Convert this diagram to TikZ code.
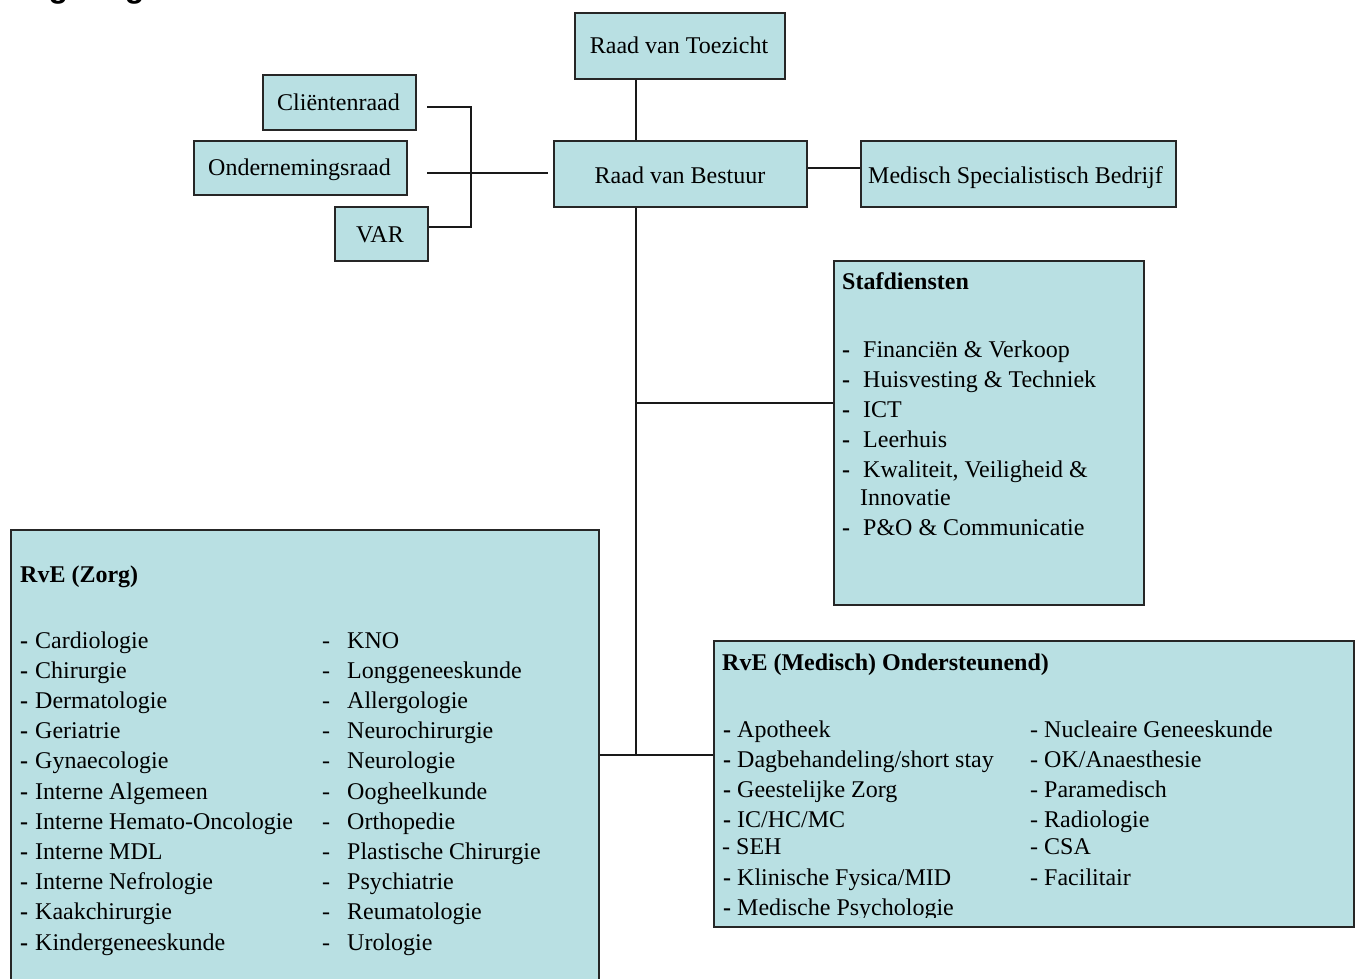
\documentclass[tikz,border=0pt]{standalone}
\usepackage{fontspec}
\setmainfont{Liberation Serif}
\newfontfamily\headfont{Liberation Sans}
\definecolor{boxfill}{RGB}{185,224,227}
\begin{document}
\begin{tikzpicture}[x=1pt,y=-1pt,
  box/.style={draw=black!85, line width=1.5pt, fill=boxfill, rectangle, inner sep=0pt, anchor=north west},
  txt/.style={inner sep=0pt, anchor=base west, font=\fontsize{24}{29}\selectfont},
  ctxt/.style={txt, anchor=base},
  btxt/.style={txt, font=\fontsize{24}{29}\selectfont\bfseries},
  conn/.style={line width=1.5pt, draw=black!90},
]
\useasboundingbox (0,0) rectangle (1360,978);
\clip (0,0) rectangle (1360,978);

% partially visible heading
\node[anchor=base west, inner sep=0pt, font=\headfont\bfseries\fontsize{32}{38}\selectfont] (head) at (11,-3) {Organogram};

% boxes
\node[box, minimum width=210, minimum height=66] (rvt) at (574,12) {};
\node[box, minimum width=153, minimum height=55] (cr) at (262,74) {};
\node[box, minimum width=213, minimum height=54] (ork) at (193,140) {};
\node[box, minimum width=93, minimum height=54] (var) at (334,206) {};
\node[box, minimum width=253, minimum height=66] (rvb) at (553,140) {};
\node[box, minimum width=315, minimum height=66] (msb) at (860,140) {};
\node[box, minimum width=310, minimum height=344] (staf) at (833,260) {};
\node[box, minimum width=588, minimum height=480] (zorg) at (10,529) {};
\node[box, minimum width=640, minimum height=286] (med) at (713,640) {};

% box texts
\node[ctxt] (rvtT) at (679,53) {Raad van Toezicht};
\node[ctxt] (crT) at (338.5,110) {Cliëntenraad};
\node[ctxt] (orT) at (299.5,175) {Ondernemingsraad};
\node[ctxt] (varT) at (380,242) {VAR};
\node[ctxt] (rvbT) at (680,183) {Raad van Bestuur};
\node[txt] (msbT) at (868,183) {Medisch Specialistisch Bedrijf};

% connectors
\coordinate (spineX) at (636,0);
\coordinate (crEnd) at (427,107);
\coordinate (brkTop) at (471,107);
\coordinate (brkBot) at (471,227);
\coordinate (varEnd) at (427,227);
\coordinate (orEnd) at (427,173);
\coordinate (rvbIn) at (548,173);
\coordinate (msbY) at (0,168);
\coordinate (stafY) at (0,403);
\coordinate (junc) at (636,755);

\draw[conn] (rvt.south -| spineX) -- (rvb.north -| spineX);
\draw[conn] (crEnd) -- (brkTop) -- (brkBot) -- (var.east |- varEnd);
\draw[conn] (orEnd) -- (rvbIn);
\draw[conn] (rvb.east |- msbY) -- (msb.west |- msbY);
\draw[conn] (rvb.south -| spineX) -- (junc);
\draw[conn] (spineX |- stafY) -- (staf.west |- stafY);
\draw[conn] (zorg.east |- junc) -- (med.west |- junc);

% Stafdiensten
\node[btxt] (stafT) at (842,289) {Stafdiensten};
\foreach \t/\yy [count=\i] in {Financiën \& Verkoop/357, Huisvesting \& Techniek/387, ICT/417, Leerhuis/447, {Kwaliteit, Veiligheid \&}/477, P\&O \& Communicatie/535} {
  \node[btxt] (sd\i) at (842,\yy) {-};
  \node[txt] (st\i) at (863,\yy) {\t};
}
\node[txt] (stInno) at (860,505) {Innovatie};

% RvE (Zorg)
\node[btxt] (zorgT) at (20,582) {RvE (Zorg)};
\foreach \t [count=\i from 0] in {Cardiologie, Chirurgie, Dermatologie, Geriatrie, Gynaecologie, Interne Algemeen, Interne Hemato-Oncologie, Interne MDL, Interne Nefrologie, Kaakchirurgie, Kindergeneeskunde} {
  \node[btxt] (zld\i) at (20,{648+30.2*\i}) {-};
  \node[txt] (zl\i) at (35,{648+30.2*\i}) {\t};
}
\foreach \t [count=\i from 0] in {KNO, Longgeneeskunde, Allergologie, Neurochirurgie, Neurologie, Oogheelkunde, Orthopedie, Plastische Chirurgie, Psychiatrie, Reumatologie, Urologie} {
  \node[txt] (zrd\i) at (322,{648+30.2*\i}) {-};
  \node[txt] (zr\i) at (347,{648+30.2*\i}) {\t};
}

% RvE (Medisch) Ondersteunend
\node[btxt] (medT) at (722,670) {RvE (Medisch) Ondersteunend)};
\node[btxt] (mld1) at (723,737) {-};
\node[txt] (ml1) at (737,737) {Apotheek};
\node[btxt] (mld2) at (723,767) {-};
\node[txt] (ml2) at (737,767) {Dagbehandeling/short stay};
\node[btxt] (mld3) at (723,797) {-};
\node[txt] (ml3) at (737,797) {Geestelijke Zorg};
\node[btxt] (mld4) at (723,827) {-};
\node[txt] (ml4) at (737,827) {IC/HC/MC};
\node[txt] (ml5) at (722,854) {- SEH};
\node[btxt] (mld6) at (723,885) {-};
\node[txt] (ml6) at (737,885) {Klinische Fysica/MID};
\begin{scope}
  \clip (713,640) rectangle (1353,917);
  \node[btxt] (mld7) at (723,915) {-};
  \node[txt] (ml7) at (737,915) {Medische Psychologie};
\end{scope}
\node[txt] (mr1) at (1030,737) {- Nucleaire Geneeskunde};
\node[txt] (mr2) at (1030,767) {- OK/Anaesthesie};
\node[txt] (mr3) at (1030,797) {- Paramedisch};
\node[txt] (mr4) at (1030,827) {- Radiologie};
\node[txt] (mr5) at (1030,854) {- CSA};
\node[txt] (mr6) at (1030,885) {- Facilitair};
\end{tikzpicture}
\end{document}
